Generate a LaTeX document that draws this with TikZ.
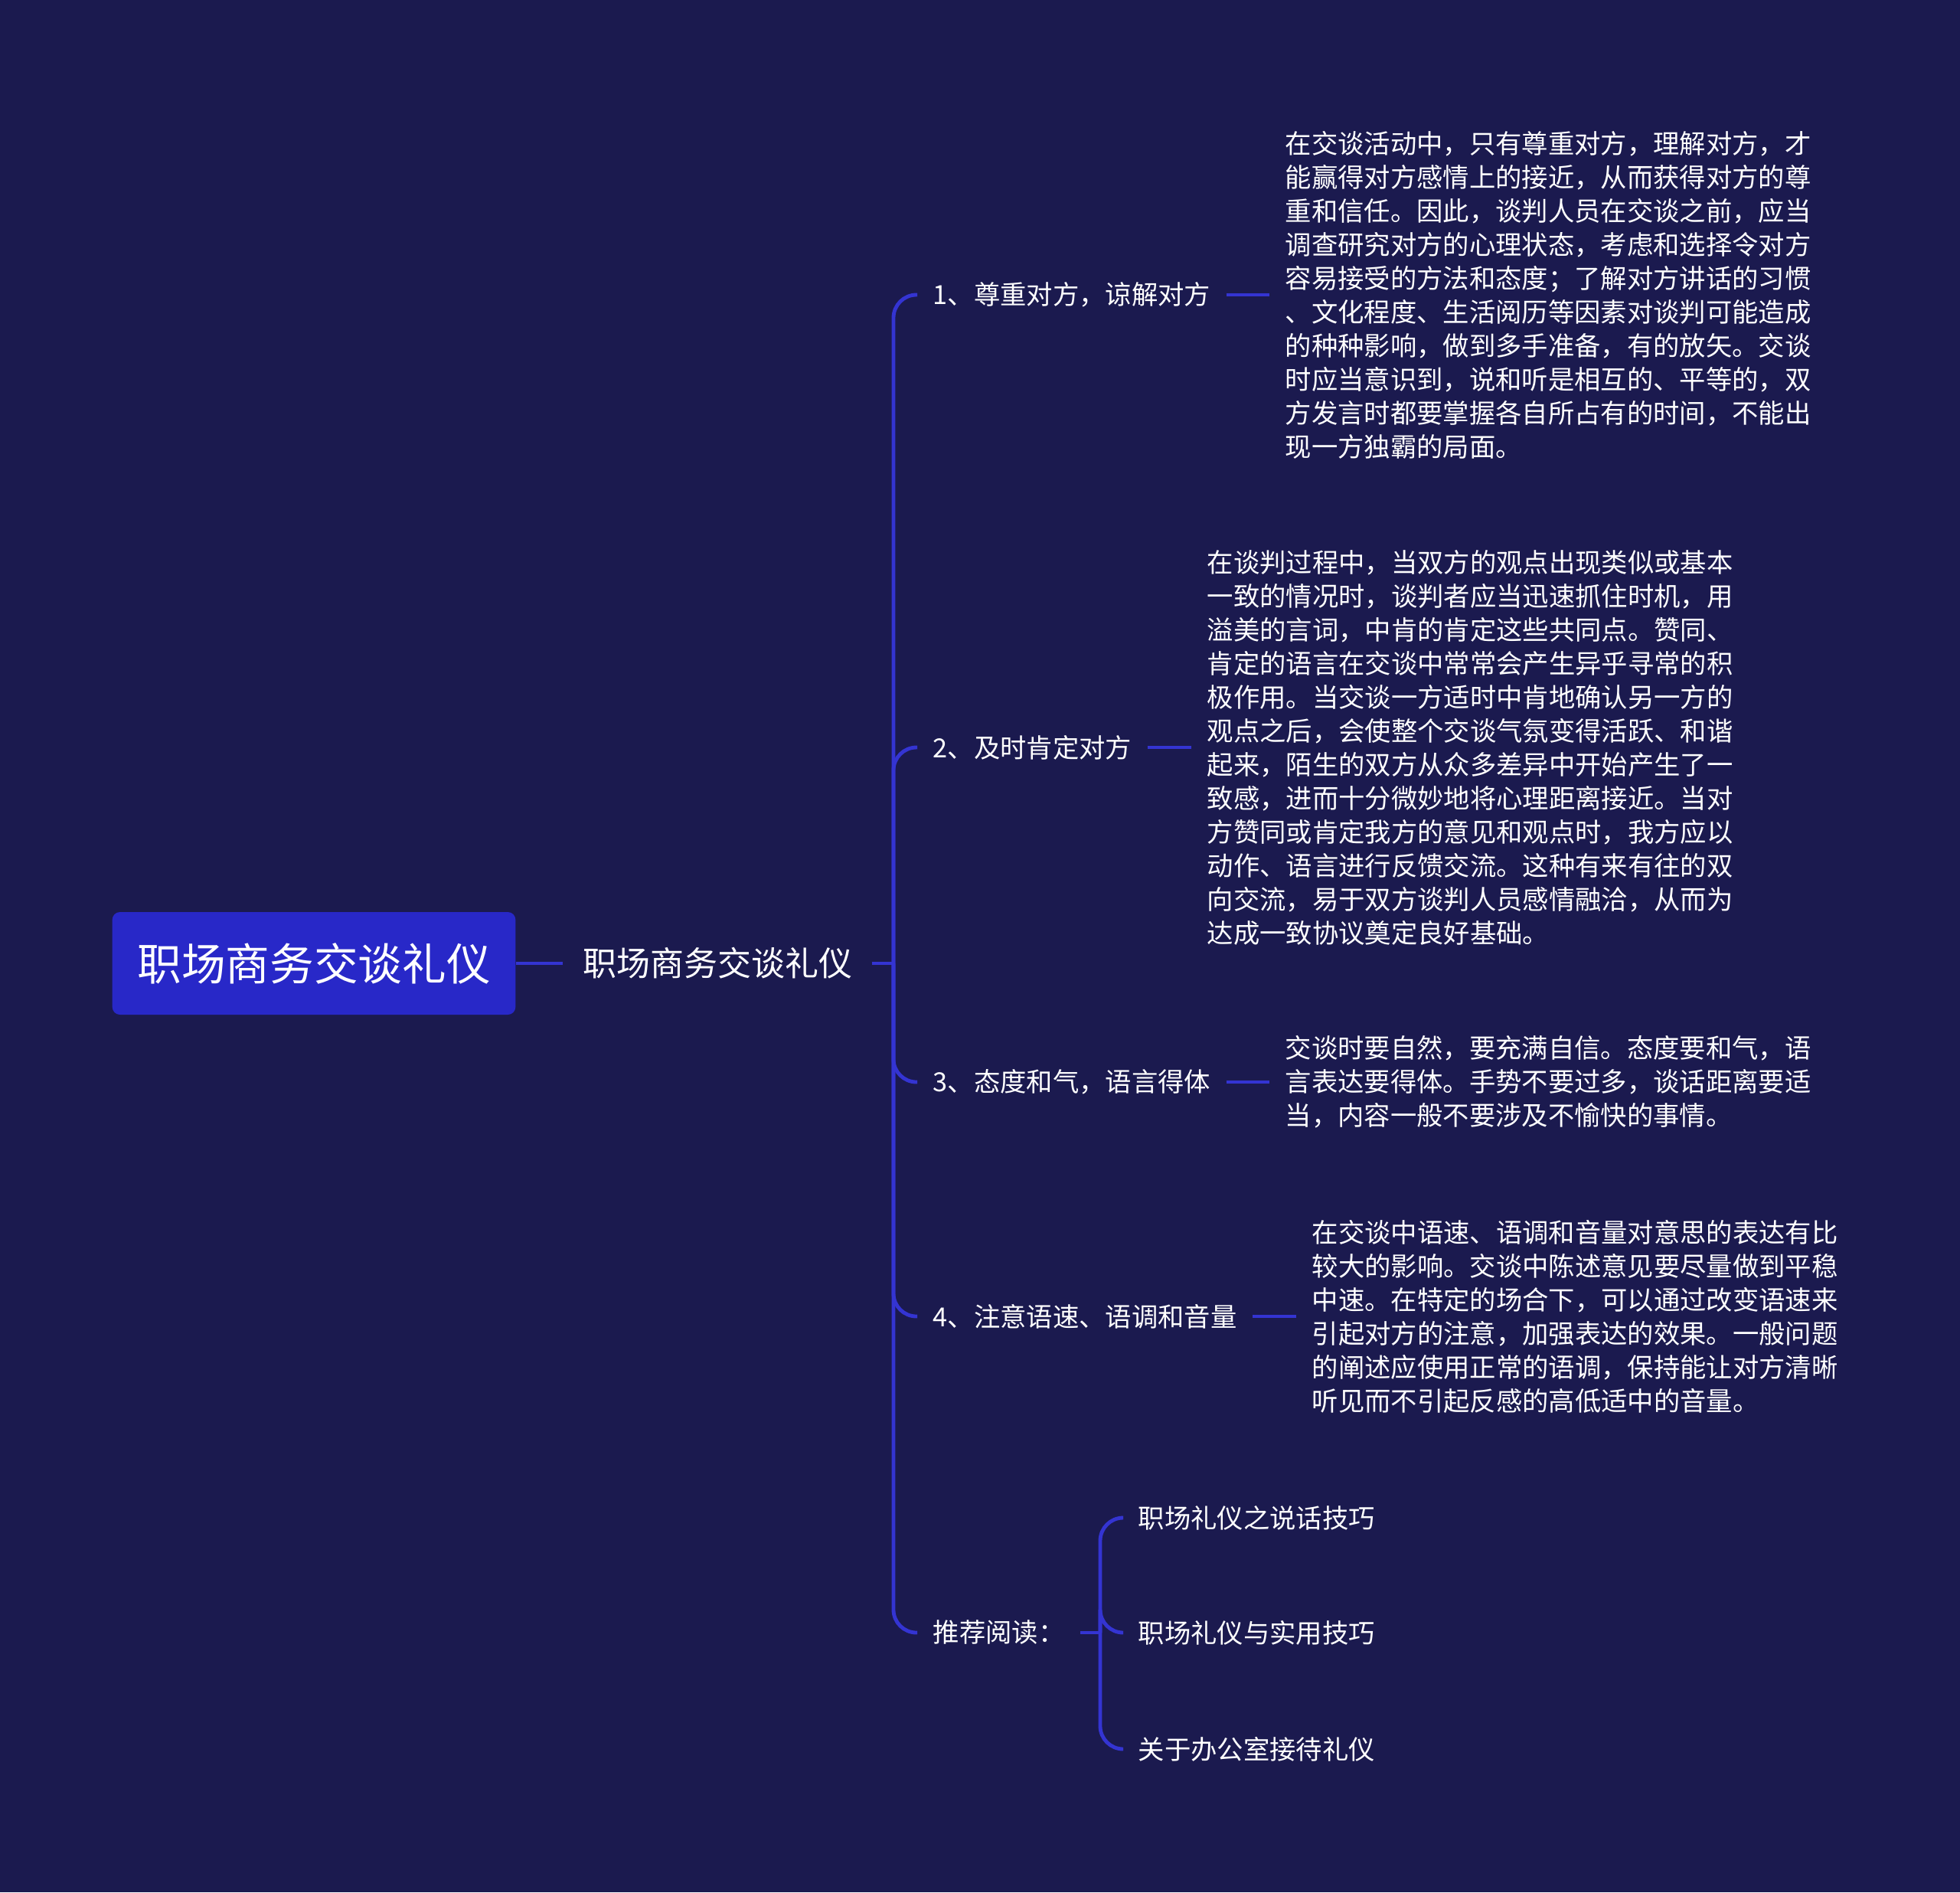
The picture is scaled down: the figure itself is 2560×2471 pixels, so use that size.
\documentclass[tikz,border=0pt]{standalone}
\usepackage{fontspec}
\setmainfont{Noto Sans CJK SC}
\usetikzlibrary{positioning}
\definecolor{night}{HTML}{1B1A4F}
\definecolor{royal}{HTML}{2828C8}
\definecolor{wirecol}{HTML}{3434D2}
\tikzset{
  topicbox/.style={fill=royal, rounded corners=3pt, text=white, inner sep=0pt,
    minimum width=158pt, minimum height=40.2pt, font=\fontsize{17.3}{20}\selectfont},
  subtopic/.style={text=white, inner xsep=7.5pt, inner ysep=0pt,
    font=\fontsize{13.2}{16}\selectfont},
  branchlabel/.style={text=white, anchor=west, inner xsep=6pt, inner ysep=0pt,
    font=\fontsize{10.3}{13.2}\selectfont},
  notetext/.style={branchlabel, align=left},
  connector/.style={wirecol, line width=1.45pt, rounded corners=9pt},
}

\begin{document}
\begin{tikzpicture}[x=0.3pt, y=-0.3pt]
  \fill[night] (0,0) rectangle (2560,2471);

  \node[topicbox] (root) at (410,1258) {职场商务交谈礼仪};
  \node[subtopic] (main) at (937,1258) {职场商务交谈礼仪};
  \coordinate (hub) at (1167,1258);

  % branches
  \node[branchlabel] (b1) at (1198,385)  {1、尊重对方，谅解对方};
  \node[branchlabel] (b2) at (1198,976)  {2、及时肯定对方};
  \node[branchlabel] (b3) at (1198,1413) {3、态度和气，语言得体};
  \node[branchlabel] (b4) at (1198,1719) {4、注意语速、语调和音量};
  \node[branchlabel] (b5) at (1198,2132) {推荐阅读：};

  % notes
  \node[notetext] (n1) at (1658,385) {在交谈活动中，只有尊重对方，理解对方，才\\
    能赢得对方感情上的接近，从而获得对方的尊\\
    重和信任。因此，谈判人员在交谈之前，应当\\
    调查研究对方的心理状态，考虑和选择令对方\\
    容易接受的方法和态度；了解对方讲话的习惯\\
    、文化程度、生活阅历等因素对谈判可能造成\\
    的种种影响，做到多手准备，有的放矢。交谈\\
    时应当意识到，说和听是相互的、平等的，双\\
    方发言时都要掌握各自所占有的时间，不能出\\
    现一方独霸的局面。};
  \node[notetext] (n2) at (1556,976) {在谈判过程中，当双方的观点出现类似或基本\\
    一致的情况时，谈判者应当迅速抓住时机，用\\
    溢美的言词，中肯的肯定这些共同点。赞同、\\
    肯定的语言在交谈中常常会产生异乎寻常的积\\
    极作用。当交谈一方适时中肯地确认另一方的\\
    观点之后，会使整个交谈气氛变得活跃、和谐\\
    起来，陌生的双方从众多差异中开始产生了一\\
    致感，进而十分微妙地将心理距离接近。当对\\
    方赞同或肯定我方的意见和观点时，我方应以\\
    动作、语言进行反馈交流。这种有来有往的双\\
    向交流，易于双方谈判人员感情融洽，从而为\\
    达成一致协议奠定良好基础。};
  \node[notetext] (n3) at (1658,1413) {交谈时要自然，要充满自信。态度要和气，语\\
    言表达要得体。手势不要过多，谈话距离要适\\
    当，内容一般不要涉及不愉快的事情。};
  \node[notetext] (n4) at (1693,1719) {在交谈中语速、语调和音量对意思的表达有比\\
    较大的影响。交谈中陈述意见要尽量做到平稳\\
    中速。在特定的场合下，可以通过改变语速来\\
    引起对方的注意，加强表达的效果。一般问题\\
    的阐述应使用正常的语调，保持能让对方清晰\\
    听见而不引起反感的高低适中的音量。};

  % reading list
  \coordinate (subhub) at (1437,2132);
  \node[branchlabel] (s1) at (1466,1982) {职场礼仪之说话技巧};
  \node[branchlabel] (s2) at (1466,2132) {职场礼仪与实用技巧};
  \node[branchlabel] (s3) at (1466,2284) {关于办公室接待礼仪};

  \draw[connector, line width=1.05pt] (root.east) -- (main.west);
  \draw[connector] (main.east) -- (hub);
  \foreach \b in {b1,b2,b3,b4,b5}
    \draw[connector] (hub) |- (\b.west);
  \foreach \b/\n in {b1/n1,b2/n2,b3/n3,b4/n4}
    \draw[connector] (\b.east) -- (\n.west);
  \draw[connector] (b5.east) -- (subhub);
  \foreach \s in {s1,s2,s3}
    \draw[connector] (subhub) |- (\s.west);
\end{tikzpicture}
\end{document}
